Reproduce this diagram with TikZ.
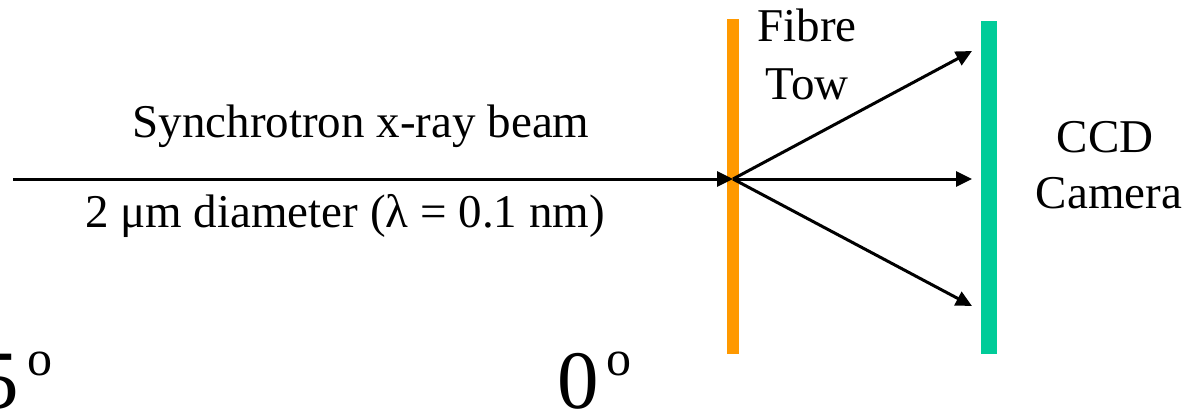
\documentclass[tikz,border=0pt]{standalone}
\usepackage{fontspec}
\setmainfont{Liberation Serif}
\newfontfamily\tnr{Liberation Serif}
\usetikzlibrary{arrows.meta}
\definecolor{fibreorange}{RGB}{255,153,0}
\definecolor{ccdgreen}{RGB}{0,204,153}
\newcommand{\degsym}{\raisebox{33pt}{\fontsize{50}{50}\selectfont o}}
\tikzset{
  lbl/.style={inner sep=0pt, anchor=base, font=\tnr\fontsize{47}{56}\selectfont},
  biglbl/.style={inner sep=0pt, anchor=base east, font=\tnr\fontsize{83}{90}\selectfont},
  ray/.style={line width=3pt, -{Triangle[length=16pt,width=15pt]}},
  bar/.style={draw=none, inner sep=0pt, minimum width=#1, anchor=north}
}
\begin{document}
\begin{tikzpicture}[x=1pt,y=-1pt]
\useasboundingbox (0,0) rectangle (1188,417);
% bars
\node[bar=12pt, fill=fibreorange, minimum height=335pt] (tow) at (733,19) {};
\node[bar=16pt, fill=ccdgreen, minimum height=333pt] (ccd) at (989,21) {};
% coordinates
\coordinate (src) at (13,179);
\coordinate (hit) at (733,179);
\coordinate (tipU) at (972,51);
\coordinate (tipM) at (972,179);
\coordinate (tipD) at (972,306);
% rays
\draw[ray] (src) -- (hit);
\draw[ray] (hit) -- (tipU);
\draw[ray] (hit) -- (tipM);
\draw[ray] (hit) -- (tipD);
% labels
\node[lbl] (beam) at (361,137) {Synchrotron x-ray beam};
\node[lbl] (diam) at (345,227) {2 μm diameter (λ = 0.1 nm)};
\node[lbl] (fibre) at (807,42) {Fibre};
\node[lbl] (towlbl) at (807,100) {Tow};
\node[lbl] (ccdlbl) at (1105,153) {CCD};
\node[lbl] (camlbl) at (1109,208) {Camera};
\node[biglbl] (five) at (53,408) {5\hspace{0.1em}\degsym};
\node[biglbl] (zero) at (632,408) {0\hspace{0.1em}\degsym};
\end{tikzpicture}
\end{document}
